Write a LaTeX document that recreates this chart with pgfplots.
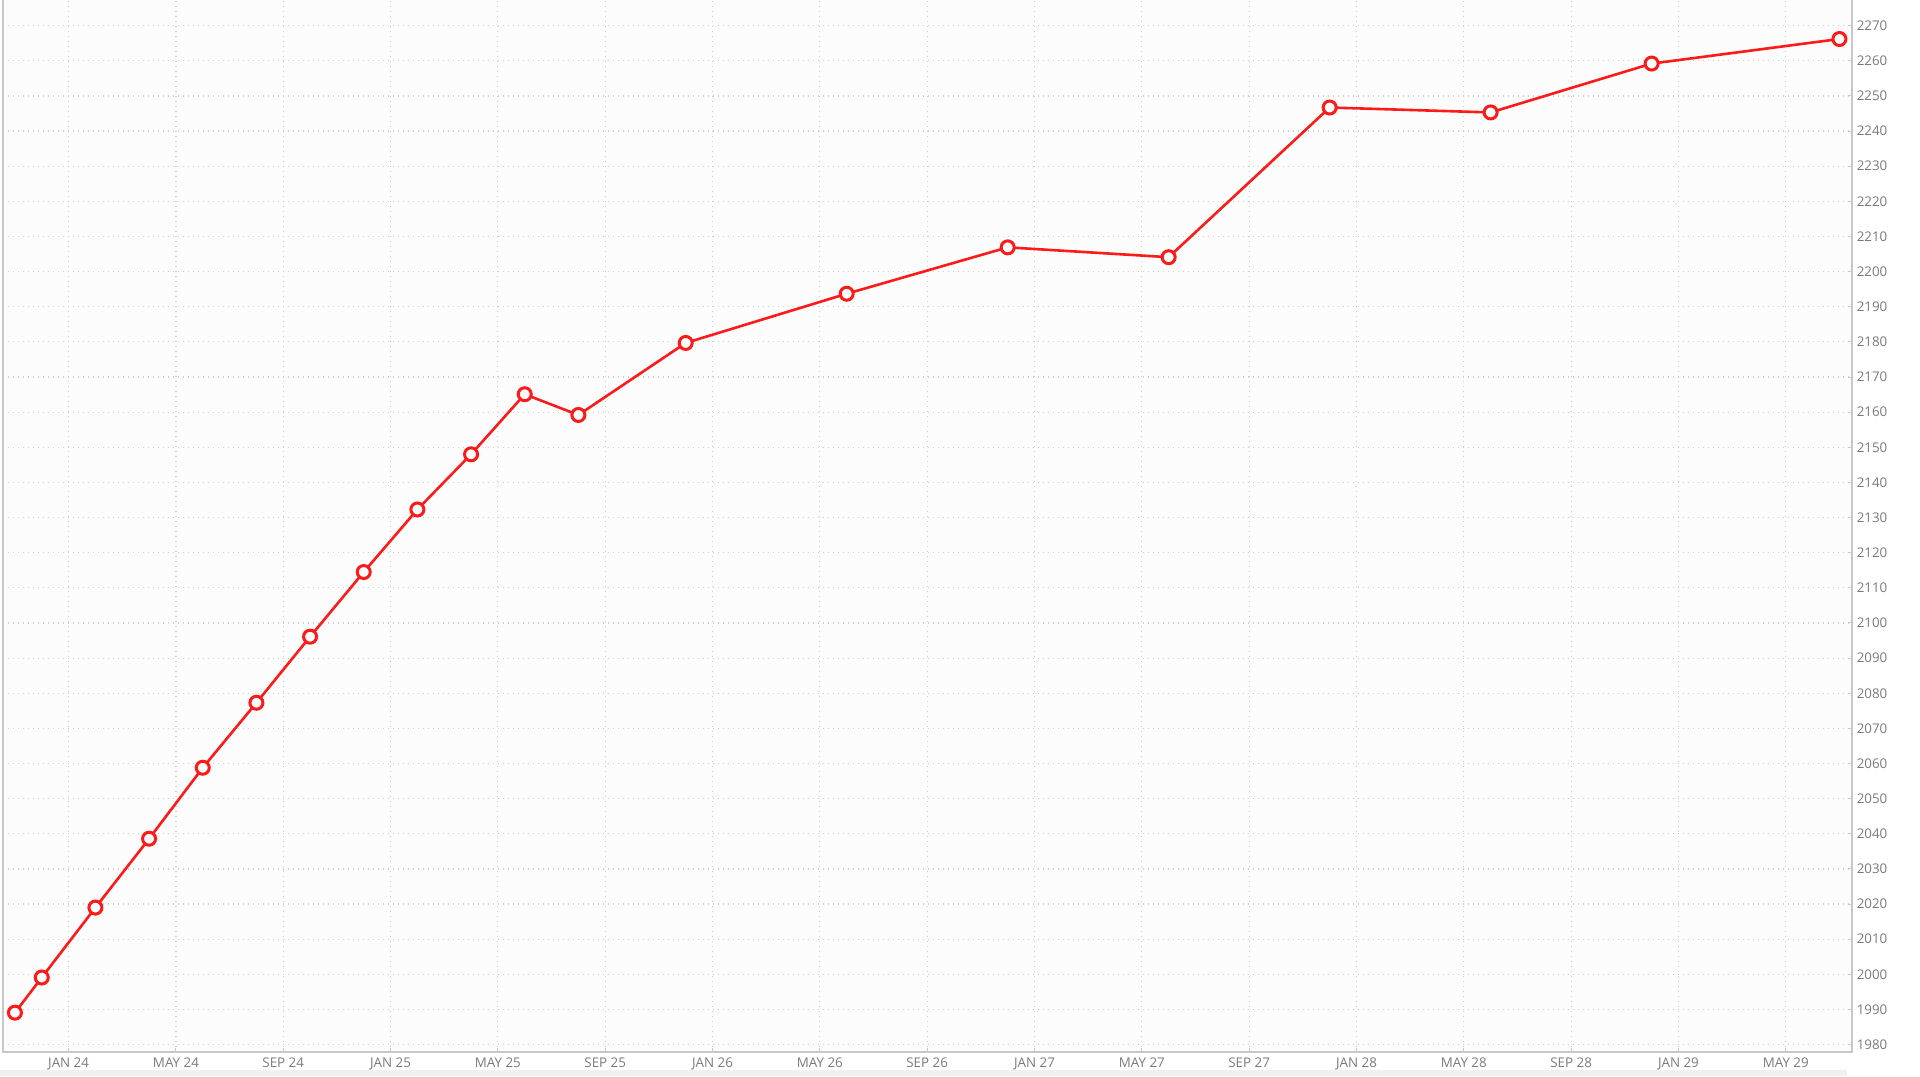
\documentclass[border=0pt]{standalone}
\usepackage{fontspec}
\setmainfont{Open Sans}
\usepackage{pgfplots}
\pgfplotsset{compat=1.18}
\definecolor{lblgray}{HTML}{7A7A7A}
\definecolor{gridgray}{HTML}{CFCFCF}
\definecolor{axgray}{HTML}{C8C8C8}
\definecolor{linered}{HTML}{FF1A1A}
\begin{document}
\begin{tikzpicture}
\useasboundingbox (0,0) rectangle (19.2cm,10.76cm);
\fill[black!6] (0,0) rectangle (18.47cm,0.06cm);
\begin{axis}[
 at={(0.03cm,0.24cm)}, anchor=south west, scale only axis,
 width=18.49cm, height=10.52cm,
 xmin=-2.445, xmax=66.47, ymin=1977.9, ymax=2277.3,
 xtick={0,4,...,64},
 xticklabels={JAN 24, MAY 24, SEP 24, JAN 25, MAY 25, SEP 25, JAN 26, MAY 26, SEP 26, JAN 27, MAY 27, SEP 27, JAN 28, MAY 28, SEP 28, JAN 29, MAY 29},
 ytick={1980,1990,...,2270},
 yticklabel pos=right, xticklabel pos=lower,
 ytick pos=right, xtick pos=lower,
 axis line style={draw=none},
 axis background/.style={fill=black!1},
 grid=major, major grid style={gridgray, line width=0.12mm, dash pattern=on 0.12mm off 0.38mm},
 tick align=inside, major tick length=0.4mm, tick style={axgray, line width=0.1mm},
 ticklabel style={font=\fontsize{3.8}{4}\selectfont, text=lblgray, inner sep=0pt},
 yticklabel style={anchor=west, xshift=0.4mm},
 xticklabel style={anchor=north, yshift=-0.5mm},
 /pgf/number format/assume math mode=true,
 /pgf/number format/1000 sep={},
 clip=false,
]
\addplot[linered, line width=0.26mm, mark=*, mark size=0.65mm,
  mark options={fill=white, draw=linered, line width=0.3mm, solid}] coordinates {
 (-2,1989.1) (-1,1999.1) (1,2019.0) (3,2038.6) (5,2058.8) (7,2077.3)
 (9,2096.1) (11,2114.5) (13,2132.3) (15,2148.0) (17,2165.1) (19,2159.2)
 (23,2179.7) (29,2193.7) (35,2206.9) (41,2204.1) (47,2246.7) (53,2245.3)
 (59,2259.2) (66,2266.2)
};
\draw[axgray, line width=0.15mm] (rel axis cs:0,1) -- (rel axis cs:0,0) -- (rel axis cs:1,0) -- (rel axis cs:1,1);
\end{axis}
\end{tikzpicture}
\end{document}
